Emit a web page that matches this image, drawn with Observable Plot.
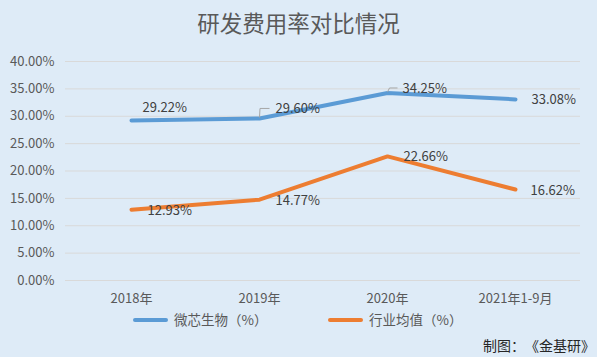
<!DOCTYPE html>
<html>
<head>
<meta charset="utf-8">
<script src="https://cdn.jsdelivr.net/npm/d3@7"></script>
<script src="https://cdn.jsdelivr.net/npm/@observablehq/plot@0.6"></script>
<style>
  html, body { margin: 0; padding: 0; }
  body { width: 597px; height: 357px; overflow: hidden; }
  #wrap { position: relative; width: 597px; height: 357px; background: #deebf7; overflow: hidden;
          font-family: "Noto Sans CJK SC", "Noto Sans", sans-serif; text-spacing-trim: space-all; }
  #title { position: absolute; left: 0; top: 7px; width: 597px; text-align: center; font-size: 22.5px; color: #595959; line-height: 30px; }
  #chart { position: absolute; left: 0; top: 44px; }
  .leg { position: absolute; top: 310px; font-size: 13.5px; color: #595959; line-height: 18px; }
  .leg .sw { display: inline-block; width: 35px; height: 4px; border-radius: 2px; vertical-align: middle; margin-right: 6px; position: relative; top: -1px; }
  #caption { position: absolute; left: 483px; top: 336px; font-size: 14px; color: #262626; white-space: nowrap; line-height: 18px; text-spacing-trim: space-all; }
</style>
</head>
<body>
<div id="wrap">
  <div id="title">研发费用率对比情况</div>
  <div id="chart"></div>
  <div class="leg" style="left:133px"><span class="sw" style="background:#5b9bd5"></span>微芯生物（%）</div>
  <div class="leg" style="left:328px"><span class="sw" style="background:#ed7d31"></span>行业均值（%）</div>
  <div id="caption">制图：《金基研》</div>
</div>
<script>
const categories = ["2018年", "2019年", "2020年", "2021年1-9月"];
const seriesNames = ["微芯生物（%）", "行业均值（%）"];
const weixinValues = [29.22, 29.60, 34.25, 33.08];
const industryValues = [12.93, 14.77, 22.66, 16.62];
const yTicks = [0, 5, 10, 15, 20, 25, 30, 35, 40];

const colors = ["#5b9bd5", "#ed7d31"];
// label offsets in pixels (dx, dy) for each series point
const labelOffsets = [
  [[11, -13], [16, -10], [15, -4.5], [16, 0]],
  [[16, 1], [16, 1], [16, 0], [15, 1]]
];

const rows = [];
[weixinValues, industryValues].forEach((vals, s) => {
  vals.forEach((v, i) => rows.push({series: seriesNames[s], s, i, cat: categories[i], v}));
});

function leader(points) {
  return {
    draw(ctx) {
      ctx.moveTo(points[0][0], points[0][1]);
      for (let k = 1; k < points.length; k++) ctx.lineTo(points[k][0], points[k][1]);
    }
  };
}

const marks = [
  Plot.ruleY(yTicks, {stroke: "#d9d9d9", strokeWidth: 1}),
  Plot.axisY({ticks: yTicks, tickSize: 0, tickPadding: 11, tickFormat: d => d.toFixed(2) + "%", label: null, fill: "#595959"}),
  Plot.axisX({tickSize: 0, tickPadding: 13, label: null, fill: "#595959"})
];

seriesNames.forEach((name, s) => {
  marks.push(Plot.line(rows.filter(r => r.s === s), {
    x: "cat", y: "v", stroke: colors[s], strokeWidth: 4, strokeLinecap: "round", strokeLinejoin: "round"
  }));
});

// leader lines for moved labels
marks.push(Plot.dot(rows.filter(r => r.s === 0 && r.i === 1), {
  x: "cat", y: "v", r: 5, fill: "none", stroke: "#a6a6a6", strokeWidth: 1,
  symbol: leader([[0, -1], [0.5, -10], [10, -10]])
}));
marks.push(Plot.dot(rows.filter(r => r.s === 0 && r.i === 2), {
  x: "cat", y: "v", r: 5, fill: "none", stroke: "#a6a6a6", strokeWidth: 1,
  symbol: leader([[0, -1], [2, -5], [10, -5]])
}));

rows.forEach(r => {
  const [dx, dy] = labelOffsets[r.s][r.i];
  marks.push(Plot.text([r], {
    x: "cat", y: "v", text: d => d.v.toFixed(2) + "%", textAnchor: "start",
    dx, dy, fill: "#404040", fontSize: 13
  }));
});

const chart = Plot.plot({
  width: 597,
  height: 266,
  marginLeft: 65,
  marginRight: 17,
  marginTop: 17,
  marginBottom: 30,
  style: {background: "transparent", fontSize: "13px", fontFamily: "'Noto Sans CJK SC', 'Noto Sans', sans-serif", overflow: "visible"},
  x: {type: "point", domain: categories, padding: 0.5},
  y: {domain: [0, 40]},
  marks
});
document.getElementById("chart").appendChild(chart);
</script>
</body>
</html>
